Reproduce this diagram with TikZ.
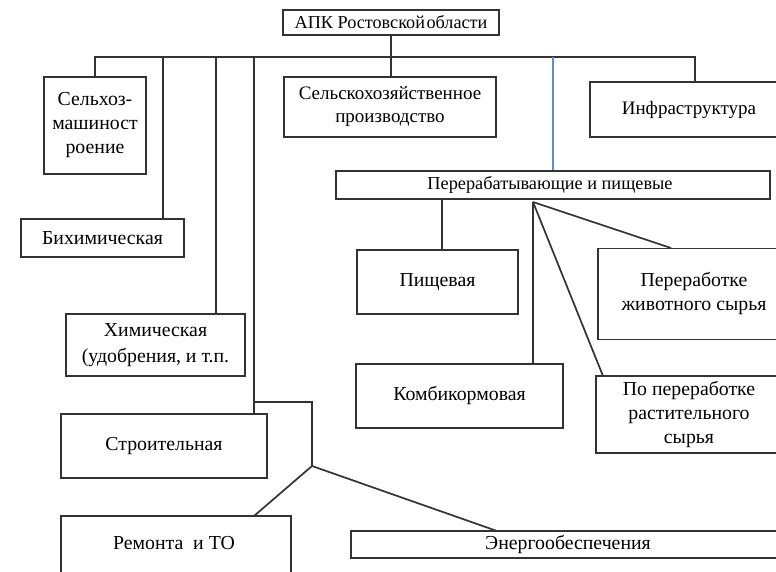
\documentclass[tikz,border=0pt]{standalone}
\usepackage{fontspec}
\setmainfont{Liberation Serif}
\definecolor{ln}{HTML}{333333}
\definecolor{bl}{HTML}{5B8FC9}
\begin{document}
\begin{tikzpicture}[x=1pt,y=-1pt,
  box/.style={draw=ln,line width=1.7pt,rectangle,inner sep=0pt,align=center,font=\fontsize{19.8}{24}\selectfont},
  conn/.style={draw=ln,line width=1.7pt},
  lbl/.style={inner sep=0pt,align=center,font=\fontsize{19.8}{24}\selectfont}]
\useasboundingbox (0,0) rectangle (776,571);
\clip (0,0) rectangle (776,571);
\fill[white] (0,0) rectangle (776,571);
% boxes
\node[box,minimum width=216,minimum height=25,font=\fontsize{18.2}{22}\selectfont] (top) at (391,22.5) {АПК Ростовской\hspace{0.08em}области};
\node[box,minimum width=102,minimum height=97] (selmash) at (95,125.5) {Сельхоз-\\машиност\\роение};
\node[box,minimum width=212,minimum height=60,font=\fontsize{19}{23}\selectfont] (selhoz) at (390,107) {Сельскохозяйственное\\производство};
\node[box,minimum width=198,minimum height=55,font=\fontsize{19}{23}\selectfont] (infra) at (689,109.5) {Инфраструктура};
\node[box,minimum width=434,minimum height=28] (perer) at (553,185) {};
\node[lbl,font=\fontsize{18.3}{22}\selectfont] (pererT) at (550,185) {Перерабатывающие и пищевые};
\node[box,minimum width=163,minimum height=38] (bihim) at (102.5,238) {Бихимическая};
\node[box,minimum width=179,minimum height=62,font=\fontsize{19.8}{26}\selectfont] (him) at (155.5,345) {Химическая\\(удобрения, и т.п.};
\node[box,minimum width=206,minimum height=64] (stroit) at (164,446) {Строительная};
\node[box,minimum width=230,minimum height=70] (remont) at (176,551) {};
\node[lbl] (remontT) at (174,543) {Ремонта\ \ и ТО};
\node[box,minimum width=434,minimum height=27] (energo) at (568,544.5) {Энергообеспечения};
\node[box,minimum width=161,minimum height=64] (pishch) at (437.5,282) {Пищевая};
\node[box,minimum width=207,minimum height=64] (kombi) at (459.5,396) {Комбикормовая};
\node[box,minimum width=192,minimum height=91] (zhiv) at (694,294) {Переработке\\животного сырья};
\node[box,minimum width=186,minimum height=77] (rast) at (689,414.5) {По переработке\\растительного\\сырья};
% bus
\coordinate (busL) at (95,57);
\coordinate (busR) at (695,57);
\coordinate (b1) at (163,57);
\coordinate (b2) at (216,57);
\coordinate (b3) at (254,57);
\coordinate (b4) at (553,57);
\coordinate (s1) at (254,402);
\coordinate (s2) at (312,402);
\coordinate (s3) at (312,466);
\coordinate (hub) at (533,202);
\draw[conn] (top.south) -- (top.south |- selhoz.north);
\draw[conn] (selmash.north) -- (busL) -- (busR) -- (busR |- infra.north);
\draw[conn] (b1) -- (b1 |- bihim.north);
\draw[conn] (b2) -- (b2 |- him.north);
\draw[conn] (b3) -- (b3 |- stroit.north);
\draw[bl,line width=1.7pt] (b4) -- (b4 |- perer.north);
\draw[conn] (s1) -- (s2) -- (s3);
\draw[conn] (s3) -- (254,516);
\draw[conn] (s3) -- (497,531);
\draw[conn] (442,199) -- (442,250);
\draw[conn] (hub) -- (hub |- kombi.north);
\draw[conn] (hub) -- (671,248);
\draw[conn] (hub) -- (603,376);
\end{tikzpicture}
\end{document}
